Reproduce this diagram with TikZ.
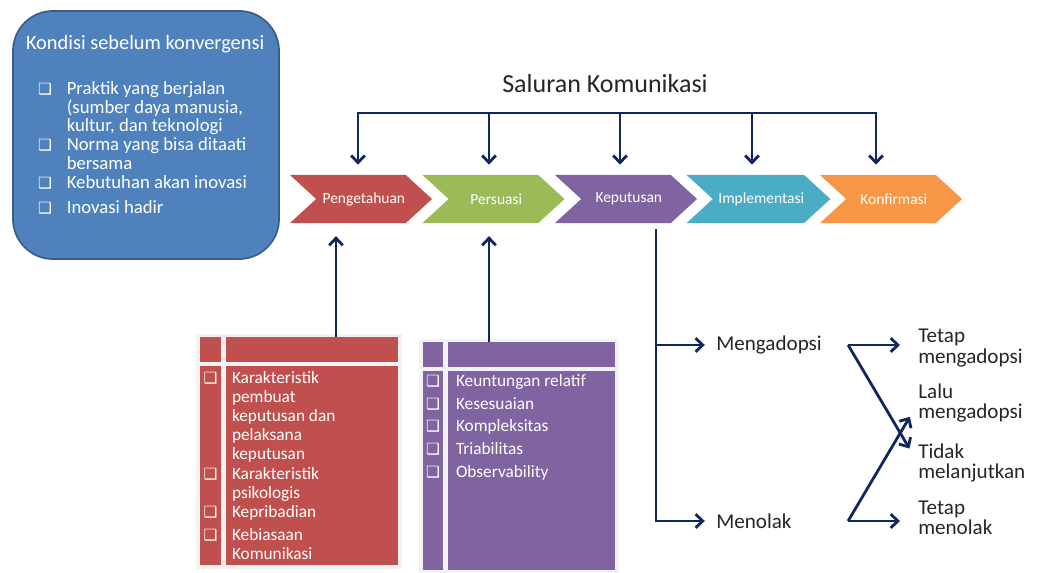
\documentclass[tikz,border=0pt]{standalone}
\usepackage{fontspec}
\setmainfont{Carlito}
\newfontfamily\symfont{DejaVu Sans}
\usepackage{array}
\usetikzlibrary{
  arrows.meta,
  positioning,
  fit,
  shapes.symbols
}
\definecolor{kondblue}{RGB}{79,129,189}
\definecolor{konddraw}{RGB}{56,93,138}
\definecolor{chevred}{RGB}{192,80,77}
\definecolor{chevgreen}{RGB}{155,187,89}
\definecolor{chevpurple}{RGB}{128,100,162}
\definecolor{chevaqua}{RGB}{75,172,198}
\definecolor{chevorange}{RGB}{247,150,70}
\definecolor{navy}{RGB}{18,38,96}
\newcommand{\kotak}{{\symfont\fontsize{11}{11}\selectfont ❑}}

\begin{document}
\begin{tikzpicture}[
  x=0.025cm, y=-0.025cm,
  chev/.style={signal, signal from=west, signal to=east, signal pointer angle=85,
               minimum width=3.55cm, minimum height=1.2cm, inner sep=0pt,
               text=white, font=\fontsize{11}{12}\selectfont},
  cell/.style={inner sep=0pt, outer sep=0pt},
  conn/.style={draw=navy, line width=2pt},
  arr/.style={conn, -{Straight Barb[length=1.8mm, width=3.4mm]}},
  lbl/.style={inner sep=0pt, align=left, text=black!85,
              font=\fontsize{15}{14.5}\selectfont},
  node distance=0.65cm
]
\useasboundingbox[fill=white] (0,0) rectangle (1038,572);

% Kondisi sebelum konvergensi
\node[draw=konddraw, fill=kondblue, line width=1.2pt, rounded corners=1cm,
      minimum width=6.65cm, minimum height=6.2cm] (kondisi) at (146,135) {};
\node[cell, anchor=west, text=white, font=\fontsize{14.5}{16}\selectfont] (judul) at (26,44)
  {Kondisi sebelum konvergensi};
\node[cell, anchor=north west, text=white, font=\fontsize{13.3}{13.4}\selectfont] (syarat) at (38,81)
  {\begin{tabular}{@{}p{0.72cm}@{}>{\raggedright\arraybackslash}p{5.3cm}@{}}
   \kotak & Praktik yang berjalan\newline (sumber daya manusia,\newline kultur, dan teknologi\\[4.2pt]
   \kotak & Norma yang bisa ditaati\newline bersama\\[4.2pt]
   \kotak & Kebutuhan akan inovasi\\[4.2pt]
   \kotak & Inovasi hadir
   \end{tabular}};

% Saluran Komunikasi
\node[font=\fontsize{18.5}{20}\selectfont, text=black!85] (saluran) at (605,84) {Saluran Komunikasi};
\coordinate (s1) at (358,113);
\coordinate (s2) at (489,113);
\coordinate (s3) at (620,113);
\coordinate (s4) at (752,113);
\coordinate (s5) at (876,113);

% Tahapan
\node[chev, fill=chevred] (peng) at (361,199) {\hspace{4pt}Pengetahuan};
\node[chev, fill=chevgreen] (pers) at (493.5,199) {\hspace{4pt}Persuasi};
\node[chev, fill=chevpurple] (kep) at (626,199) {\hspace{4pt}Keputusan};
\node[chev, fill=chevaqua] (impl) at (758.5,199) {\hspace{4pt}Implementasi};
\node[chev, fill=chevorange] (konf) at (891,199) {\hspace{4pt}Konfirmasi};

\draw[conn, {Straight Barb[length=1.8mm, width=3.4mm]}-{Straight Barb[length=1.8mm, width=3.4mm]},
      shorten <=0.25cm, shorten >=0.25cm] (peng.north -| s1) |- (s5) -- (s5 |- konf.north);
\draw[arr, shorten >=0.25cm] (s2) -- (s2 |- pers.north);
\draw[arr, shorten >=0.25cm] (s3) -- (s3 |- kep.north);
\draw[arr, shorten >=0.25cm] (s4) -- (s4 |- impl.north);

% Tabel karakteristik
\fill[black!5] (196,334) rectangle (402,569);
\node[cell, fill=chevred, fit={(200,337) (221,362)}] (hdA0) {};
\node[cell, fill=chevred, fit={(226,337) (398,362)}] (hdA) {};
\node[cell, fill=chevred, fit={(200,366) (221,565)}] (bdA0) {};
\node[cell, fill=chevred, fit={(226,366) (398,565)}] (bdA) {};
\node[cell, anchor=north west, text=white, font=\fontsize{12.3}{13.6}\selectfont] (isiA) at (200,370)
  {\begin{tabular}{@{}>{\centering\arraybackslash}p{0.525cm}@{\hspace{0.275cm}}>{\raggedright\arraybackslash}p{4.1cm}@{}}
   \kotak & Karakteristik\newline pembuat\newline keputusan dan\newline pelaksana\newline keputusan\\[3pt]
   \kotak & Karakteristik\newline psikologis\\[3.5pt]
   \kotak & Kepribadian\\[3pt]
   \kotak & Kebiasaan\newline Komunikasi
   \end{tabular}};

\fill[black!5] (419,339) rectangle (619,574);
\node[cell, fill=chevpurple, fit={(423,342) (443,367)}] (hdB0) {};
\node[cell, fill=chevpurple, fit={(448,342) (615,367)}] (hdB) {};
\node[cell, fill=chevpurple, fit={(423,371) (443,570)}] (bdB0) {};
\node[cell, fill=chevpurple, fit={(448,371) (615,570)}] (bdB) {};
\node[cell, anchor=north west, text=white, font=\fontsize{12.3}{13.5}\selectfont] (isiB) at (423,373)
  {\begin{tabular}{@{}>{\centering\arraybackslash}p{0.5cm}@{\hspace{0.325cm}}>{\raggedright\arraybackslash}p{4cm}@{}}
   \kotak & Keuntungan relatif\\[2.7pt]
   \kotak & Kesesuaian\\[2.7pt]
   \kotak & Kompleksitas\\[2.7pt]
   \kotak & Triabilitas\\[2.7pt]
   \kotak & Observability
   \end{tabular}};

\coordinate (u1) at (336,337);
\coordinate (u2) at (489,342);
\draw[arr, shorten >=0.32cm] (u1) -- (u1 |- peng.south);
\draw[arr, shorten >=0.32cm] (u2) -- (u2 |- pers.south);

% Keputusan
\node[lbl, anchor=west] (adopsi) at (716,345) {Mengadopsi};
\node[lbl, anchor=west] (tolak) at (716,521) {Menolak};
\node[lbl, anchor=west] (tetapA) at (918,348) {Tetap\\mengadopsi};
\node[lbl, anchor=west] (lalu) at (918,403) {Lalu\\mengadopsi};
\node[lbl, anchor=west] (tidak) at (918,463) {Tidak\\melanjutkan};
\node[lbl, anchor=west] (tetapB) at (918,518) {Tetap\\menolak};

\coordinate (k0) at (656,229);
\coordinate[right=of adopsi] (a0);
\coordinate (t0) at (a0 |- tolak.east);

\draw[arr, shorten >=0.28cm] (k0) |- (adopsi.west);
\draw[arr, shorten >=0.28cm] (k0) |- (tolak.west);
\draw[arr, shorten >=0.45cm] (a0) -- (a0 -| tetapA.west);
\draw[arr, shorten >=0.42cm] (a0) -- (tidak.west);
\draw[arr, shorten >=0.45cm] (t0) -- (t0 -| tetapB.west);
\draw[arr, shorten >=0.4cm] (t0) -- (lalu.west);

\end{tikzpicture}
\end{document}
